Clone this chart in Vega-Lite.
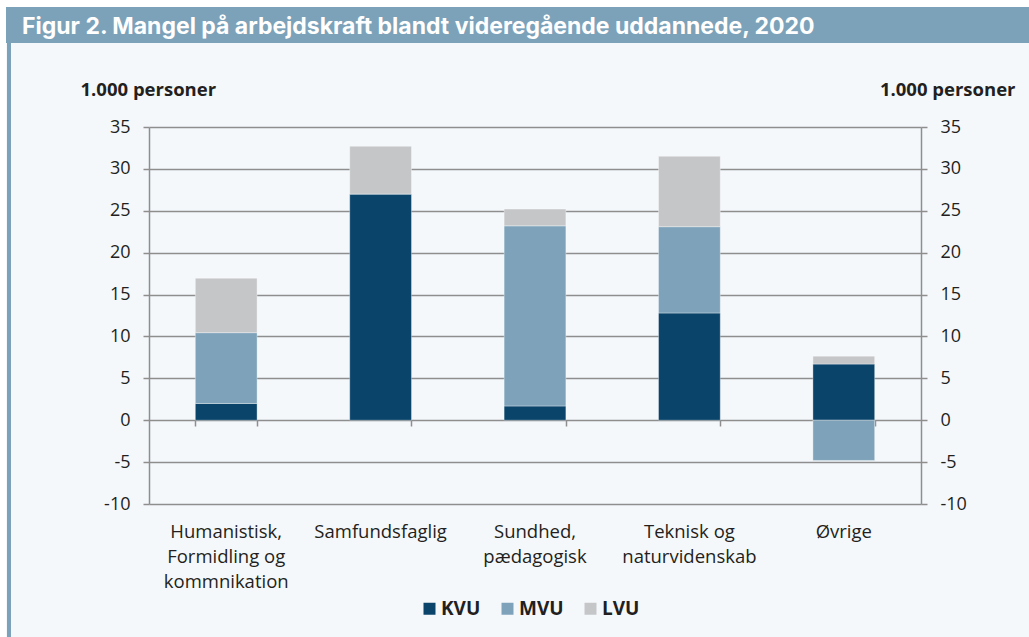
{
  "$schema": "https://vega.github.io/schema/vega-lite/v6.json",
  "background": "#F5F8FB",
  "padding": 0,
  "autosize": {"type": "pad"},
  "config": {"view": {"stroke": null}},
  "spacing": 0,
  "vconcat": [
    {
      "width": 1029, "height": 7,
      "view": {"fill": "#FFFFFF", "stroke": null},
      "data": {"values": [{"a": 1}]},
      "mark": {"type": "point", "opacity": 0},
      "encoding": {}
    },
    {
      "spacing": 0,
      "bounds": "flush",
      "hconcat": [
        {
          "width": 6, "height": 36,
          "view": {"fill": "#FFFFFF", "stroke": null},
          "data": {"values": [{"a": 1}]},
          "mark": {"type": "point", "opacity": 0},
          "encoding": {}
        },
        {
          "width": 1023, "height": 36,
          "view": {"fill": "#7CA2BA", "stroke": null},
          "title": {
            "text": "Figur 2. Mangel på arbejdskraft blandt videregående uddannede, 2020",
            "anchor": "start", "orient": "top", "frame": "group",
            "offset": 0, "dy": 32, "dx": 16,
            "font": "Inter", "fontSize": 23, "fontWeight": "bold", "color": "#FFFFFF"
          },
          "data": {"values": [{"a": 1}]},
          "mark": {"type": "point", "opacity": 0},
          "encoding": {}
        }
      ]
    },
    {
      "spacing": 0,
      "hconcat": [
        {
          "width": 6, "height": 594,
          "view": {"fill": "#FFFFFF", "stroke": null},
          "data": {"values": [{"a": 1}]},
          "mark": {"type": "point", "opacity": 0},
          "encoding": {}
        },
        {
          "width": 4, "height": 594,
          "view": {"fill": "#7CA2BA", "stroke": null},
          "data": {"values": [{"a": 1}]},
          "mark": {"type": "point", "opacity": 0},
          "encoding": {}
        },
        {
          "spacing": 0,
          "bounds": "flush",
          "hconcat": [
            {
              "width": 137, "height": 594,
              "data": {"values": [{"a": 1}]},
              "mark": {"type": "point", "opacity": 0},
              "encoding": {}
            },
            {
              "spacing": 0,
              "bounds": "flush",
              "vconcat": [
                {
                  "width": 772, "height": 84,
                  "data": {"values": [{"a": 1}]},
                  "mark": {"type": "point", "opacity": 0},
                  "encoding": {}
                },
                {
                  "width": 772, "height": 377,
                  "data": {"values": [
                    {"kategori": "Humanistisk,|Formidling og|kommnikation", "niveau": "KVU", "rang": 1, "antal": 2.0},
                    {"kategori": "Humanistisk,|Formidling og|kommnikation", "niveau": "MVU", "rang": 2, "antal": 8.45},
                    {"kategori": "Humanistisk,|Formidling og|kommnikation", "niveau": "LVU", "rang": 3, "antal": 6.5},
                    {"kategori": "Samfundsfaglig", "niveau": "KVU", "rang": 1, "antal": 27.0},
                    {"kategori": "Samfundsfaglig", "niveau": "MVU", "rang": 2, "antal": 0},
                    {"kategori": "Samfundsfaglig", "niveau": "LVU", "rang": 3, "antal": 5.7},
                    {"kategori": "Sundhed,|pædagogisk", "niveau": "KVU", "rang": 1, "antal": 1.7},
                    {"kategori": "Sundhed,|pædagogisk", "niveau": "MVU", "rang": 2, "antal": 21.5},
                    {"kategori": "Sundhed,|pædagogisk", "niveau": "LVU", "rang": 3, "antal": 2.0},
                    {"kategori": "Teknisk og|naturvidenskab", "niveau": "KVU", "rang": 1, "antal": 12.8},
                    {"kategori": "Teknisk og|naturvidenskab", "niveau": "MVU", "rang": 2, "antal": 10.3},
                    {"kategori": "Teknisk og|naturvidenskab", "niveau": "LVU", "rang": 3, "antal": 8.4},
                    {"kategori": "Øvrige", "niveau": "KVU", "rang": 1, "antal": 6.7},
                    {"kategori": "Øvrige", "niveau": "MVU", "rang": 2, "antal": -4.8},
                    {"kategori": "Øvrige", "niveau": "LVU", "rang": 3, "antal": 0.95}
                  ]},
                  "resolve": {"axis": {"x": "independent", "y": "independent"}},
                  "layer": [
                    {
                      "mark": {"type": "bar", "stroke": "#FFFFFF", "strokeWidth": 1, "strokeOpacity": 0.35},
                      "encoding": {
                        "x": {
                          "field": "kategori", "type": "nominal", "sort": null,
                          "scale": {"paddingInner": 0.6, "paddingOuter": 0.3},
                          "axis": {
                            "orient": "bottom", "title": null, "domain": false, "ticks": false,
                            "labelAngle": 0, "labelPadding": 18, "labelBaseline": "top",
                            "labelFont": "Open Sans", "labelFontSize": 18.5, "labelLineHeight": 25,
                            "labelColor": "#231F20", "labelExpr": "split(datum.label, '|')"
                          }
                        },
                        "y": {
                          "field": "antal", "type": "quantitative", "stack": "zero",
                          "scale": {"domain": [-10, 35], "nice": false},
                          "axis": {
                            "orient": "left",
                            "values": [-10, -5, 0, 5, 10, 15, 20, 25, 30, 35],
                            "grid": true, "gridColor": "#8E8E8E", "gridWidth": 1.5,
                            "domain": true, "domainColor": "#8E8E8E", "domainWidth": 1.5,
                            "ticks": true, "tickColor": "#8E8E8E", "tickWidth": 1.5, "tickSize": 6,
                            "labelPadding": 13, "labelFont": "Open Sans", "labelFontSize": 18,
                            "labelColor": "#231F20", "labelExpr": "'' + datum.value",
                            "title": "1.000 personer", "titleAngle": 0, "titleAlign": "left",
                            "titleBaseline": "middle", "titleX": -69, "titleY": -38,
                            "titleFont": "Open Sans", "titleFontSize": 18.5, "titleFontWeight": "bold",
                            "titleColor": "#231F20"
                          }
                        },
                        "color": {
                          "field": "niveau", "type": "nominal", "sort": ["KVU", "MVU", "LVU"],
                          "scale": {"domain": ["KVU", "MVU", "LVU"], "range": ["#0B446B", "#7DA2B9", "#C5C6C8"]},
                          "legend": {
                            "orient": "none", "legendX": 420, "legendY": 599,
                            "direction": "horizontal", "title": null,
                            "symbolType": "square", "symbolSize": 144, "symbolStrokeWidth": 0,
                            "symbolOpacity": 1,
                            "labelFont": "Open Sans", "labelFontSize": 19, "labelFontWeight": "bold",
                            "labelColor": "#231F20", "columnPadding": 17, "labelOffset": 2
                          }
                        },
                        "order": {"field": "rang", "type": "quantitative"}
                      }
                    },
                    {
                      "mark": {"type": "bar", "opacity": 0},
                      "encoding": {
                        "x": {
                          "field": "kategori", "type": "nominal", "sort": null,
                          "scale": {"paddingInner": 0.6, "paddingOuter": 0.3},
                          "axis": {
                            "orient": "bottom", "offset": -84, "title": null, "labels": false,
                            "domain": false, "ticks": true, "tickBand": "extent",
                            "tickColor": "#8E8E8E", "tickWidth": 1.5, "tickSize": 6
                          }
                        },
                        "y": {
                          "field": "antal", "type": "quantitative", "stack": "zero",
                          "scale": {"domain": [-10, 35], "nice": false},
                          "axis": {
                            "orient": "right",
                            "values": [-10, -5, 0, 5, 10, 15, 20, 25, 30, 35],
                            "grid": false,
                            "domain": true, "domainColor": "#8E8E8E", "domainWidth": 1.5,
                            "ticks": true, "tickColor": "#8E8E8E", "tickWidth": 1.5, "tickSize": 6,
                            "labelPadding": 13, "labelFont": "Open Sans", "labelFontSize": 18,
                            "labelColor": "#231F20", "labelExpr": "'' + datum.value",
                            "title": "1.000 personer", "titleAngle": 0, "titleAlign": "right",
                            "titleBaseline": "middle", "titleX": 94, "titleY": -38,
                            "titleFont": "Open Sans", "titleFontSize": 18.5, "titleFontWeight": "bold",
                            "titleColor": "#231F20"
                          }
                        }
                      }
                    }
                  ]
                }
              ]
            }
          ]
        }
      ]
    }
  ]
}
